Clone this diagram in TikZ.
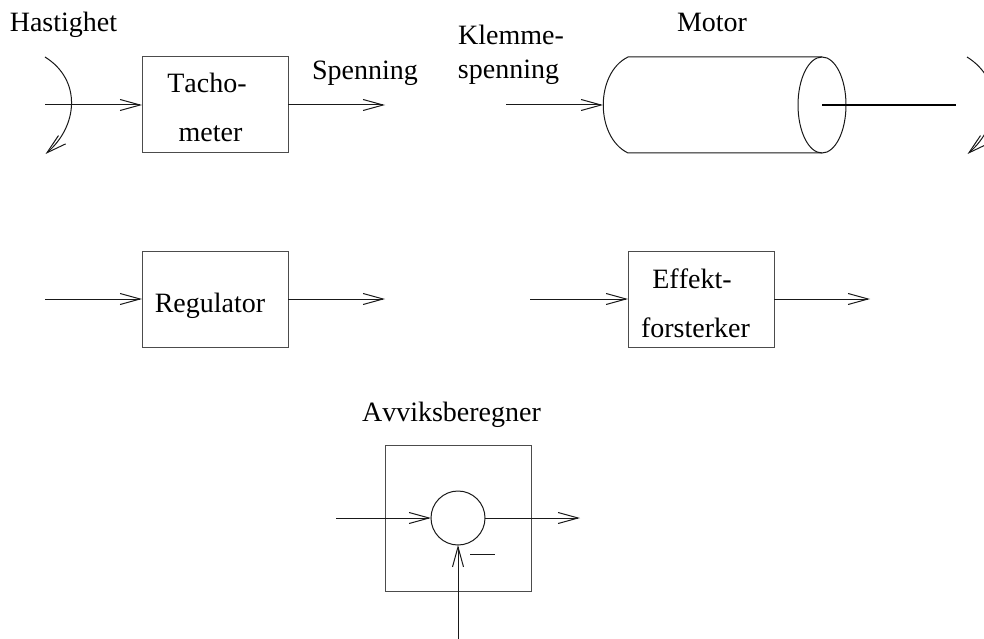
\documentclass[tikz,border=0pt]{standalone}
\usepackage{fontspec}
\setmainfont[Kerning=Off]{Liberation Serif}
\usetikzlibrary{arrows.meta,shapes.geometric}
\tikzset{
  wire/.style={line width=1pt,draw=black!90},
  sig/.style={wire,-{Straight Barb[length=20pt,width=11pt,line width=1pt]}},
  blockbox/.style={draw=black!70,line width=1pt,minimum width=146pt,minimum height=96pt,inner sep=0pt,outer sep=0pt},
  lab/.style={anchor=base,font=\fontsize{28pt}{28pt}\selectfont,inner sep=0pt,text=black},
}
\begin{document}
\begin{tikzpicture}[x=1pt,y=-1pt]
\useasboundingbox (0,0) rectangle (984,639);
\clip (0,0) rectangle (984,639);
% blocks
\node[blockbox] (tacho) at (215,105) {};
\node[blockbox] (reg) at (215,299) {};
\node[blockbox] (eff) at (701,299) {};
\node[blockbox,minimum height=146pt] (avv) at (458,518) {};
\node[draw=black!90,line width=1pt,circle,minimum size=54pt,inner sep=0pt,outer sep=0pt] (sum) at (458,518) {};
\node[draw=black!90,line width=1pt,ellipse,minimum width=48pt,minimum height=96pt,inner sep=0pt,outer sep=0pt] (end) at (822,105) {};
% coordinates
\coordinate (a1) at (45,105);
\coordinate (a2) at (385,105);
\coordinate (k1) at (506,105);
\coordinate (mi) at (603,105);
\coordinate (ml) at (628,57);
\coordinate (mb) at (628,153);
\coordinate (s2) at (956,105);
\coordinate (r1) at (45,299);
\coordinate (r2) at (385,299);
\coordinate (e1) at (530,299);
\coordinate (e2) at (870,299);
\coordinate (v1) at (336,518);
\coordinate (v2) at (580,518);
\coordinate (v3) at (458,639);
\coordinate (c1s) at (45,57);
\coordinate (c1e) at (45.5,154);
\coordinate (c2s) at (967,57);
\coordinate (c2e) at (967.5,154);
\coordinate (m1) at (470,554.5);
\coordinate (m2) at (495,554.5);
% signals
\draw[sig] (a1) -- (tacho.west);
\draw[sig] (tacho.east) -- (a2);
\draw[sig] (k1) -- (mi);
\draw[sig] (r1) -- (reg.west);
\draw[sig] (reg.east) -- (r2);
\draw[sig] (e1) -- (eff.west);
\draw[sig] (eff.east) -- (e2);
\draw[sig] (v1) -- (sum.west);
\draw[sig] (sum.east) -- (v2);
\draw[sig] (v3) -- (sum.south);
\draw[wire] (m1) -- (m2);
% rotation arrows
\draw[sig] (c1s) .. controls (82,80) and (78,126) .. (c1e);
\draw[sig] (c2s) .. controls (1004,80) and (1000,126) .. (c2e);
% motor
\draw[wire] (end.north) -- (ml) .. controls (595,73) and (595,137) .. (mb) -- (end.south);
\draw[line width=1.8pt] (end.center) -- (s2);
% labels
\node[lab] (t0) at (63.5,32) {Hastighet};
\node[lab] (t1) at (207,93) {Tacho-};
\node[lab] (t2) at (210.5,142) {meter};
\node[lab] (t3) at (365,80) {Spenning};
\node[lab] (t4) at (511,45) {Klemme-};
\node[lab] (t5) at (508.5,79) {spenning};
\node[lab] (t6) at (712,32) {Motor};
\node[lab] (t7) at (210,312) {Regulator};
\node[lab] (t8) at (692,288) {Effekt-};
\node[lab] (t9) at (695.5,337) {forsterker};
\node[lab] (t10) at (451.5,421) {Avviksberegner};
\end{tikzpicture}
\end{document}
